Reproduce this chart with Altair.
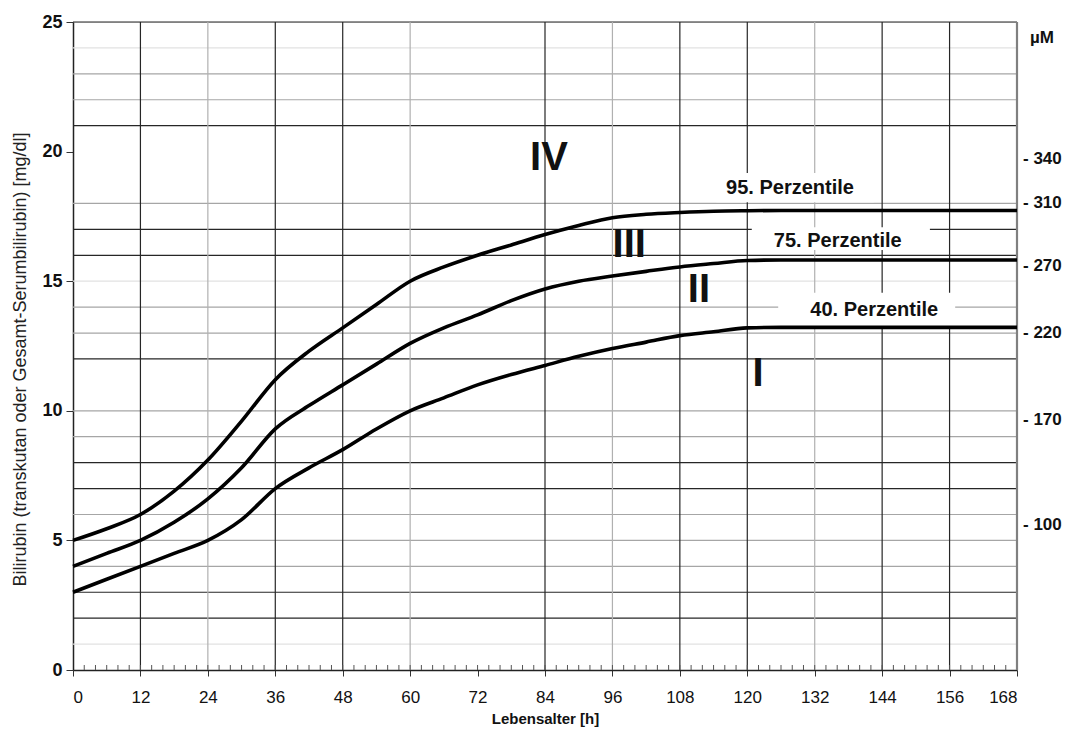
import altair as alt
import pandas as pd

# ---- data ----
hours = [0, 6, 12, 18, 24, 30, 36, 42, 48, 54, 60, 66, 72, 78, 84, 90, 96, 102, 108, 114, 120, 126, 168]
p95 = [5.0, 5.45, 6.0, 6.9, 8.1, 9.6, 11.2, 12.3, 13.2, 14.1, 15.0, 15.55, 16.0, 16.4, 16.8, 17.15, 17.45, 17.58, 17.65, 17.7, 17.72, 17.73, 17.73]
p75 = [4.0, 4.5, 5.0, 5.7, 6.6, 7.8, 9.3, 10.2, 11.0, 11.8, 12.6, 13.2, 13.7, 14.25, 14.7, 15.0, 15.2, 15.38, 15.55, 15.68, 15.8, 15.82, 15.82]
p40 = [3.0, 3.5, 4.0, 4.5, 5.0, 5.8, 7.0, 7.8, 8.5, 9.3, 10.0, 10.5, 11.0, 11.4, 11.75, 12.1, 12.4, 12.65, 12.9, 13.05, 13.2, 13.22, 13.22]

hgrid_dark = [2, 3, 7, 8, 12, 16, 17, 21, 25]
hgrid_mid = [4, 5, 6, 9, 10, 13, 14, 18, 22, 23]
hgrid_light = [1, 15, 24]
vgrid_dark = [12, 36, 48, 84, 108, 120, 144, 156]
vgrid_mid = [24, 60, 96, 132]
minor_hours = list(range(2, 168, 2))

x_ticks = list(range(0, 169, 12))
y_ticks = [0, 5, 10, 15, 20, 25]

pct_labels = ["95. Perzentile", "75. Perzentile", "40. Perzentile"]
pct_h = [127.6, 136.1, 142.6]
pct_mg = [18.6, 16.55, 13.9]
box_h1 = [114.5, 120.8, 125.5]
box_h2 = [142.5, 152.5, 157.0]
box_mg1 = [18.05, 16.2, 13.25]
box_mg2 = [19.17, 17.08, 14.55]

zones = ["IV", "III", "II", "I"]
zone_h = [84.7, 99.0, 111.4, 121.9]
zone_mg = [19.77, 16.4, 14.66, 11.42]

umol_labels = ["- 340", "- 310", "- 270", "- 220", "- 170", "- 100"]
umol_mg = [19.7, 18.0, 15.6, 13.0, 9.65, 5.6]

W, H = 944, 648
FONT = "Liberation Sans"

xs = alt.Scale(domain=[0, 168], nice=False, zero=False)
ys = alt.Scale(domain=[0, 25], nice=False, zero=False)

XT = "Lebensalter [h]"
YT = "Bilirubin (transkutan oder Gesamt-Serumbilirubin) [mg/dl]"

X_AX = alt.Axis(values=x_ticks, title=XT, grid=False, tickSize=6,
                tickColor="#333", domainColor="#222", domainWidth=1.5,
                labelFont=FONT, labelFontSize=17, labelColor="#111", labelPadding=13,
                titleFont=FONT, titleFontSize=15, titleFontWeight="bold", titleColor="#111",
                titleY=56, titleBaseline="bottom")
Y_AX = alt.Axis(values=y_ticks, title=YT,
                grid=False, tickSize=7, tickColor="#333", domainColor="#222", domainWidth=1.5,
                labelFont=FONT, labelFontSize=18, labelFontWeight="bold", labelColor="#111",
                labelPadding=4, titleFont=FONT, titleFontSize=18, titleFontWeight="normal",
                titleColor="#222", titleX=-53, titleY=337, titleAngle=-90,
                titleBaseline="middle", titleAlign="center")


def X(f):
    return alt.X(f, scale=xs, axis=X_AX, title=XT)


def Y(f):
    return alt.Y(f, scale=ys, axis=Y_AX, title=YT)


# ---- tables ----
curves = pd.DataFrame({
    "h": hours * 3,
    "mg": p95 + p75 + p40,
    "s": ["95"] * len(hours) + ["75"] * len(hours) + ["40"] * len(hours),
})
hgrid = pd.DataFrame({
    "mg": hgrid_dark + hgrid_mid + hgrid_light,
    "c": ["#262626"] * len(hgrid_dark) + ["#a6a6a6"] * len(hgrid_mid) + ["#e2e2e2"] * len(hgrid_light),
})
vgrid = pd.DataFrame({
    "h": vgrid_dark + vgrid_mid,
    "c": ["#262626"] * len(vgrid_dark) + ["#b0b0b0"] * len(vgrid_mid),
})
minor = pd.DataFrame({"h": minor_hours})
boxes = pd.DataFrame({"h": box_h1, "h2": box_h2, "mg": box_mg1, "m2": box_mg2})
pct = pd.DataFrame({"t": pct_labels, "h": pct_h, "mg": pct_mg})
zon = pd.DataFrame({"t": zones, "h": zone_h, "mg": zone_mg})
um = pd.DataFrame({"t": umol_labels, "mg": umol_mg})
umt = pd.DataFrame({"t": ["µM"], "mg": [24.4]})

# ---- layers ----
hg = alt.Chart(hgrid).mark_rule(strokeWidth=1.2).encode(
    y=Y("mg:Q"),
    color=alt.Color("c:N", scale=None),
)

vg = alt.Chart(vgrid).mark_rule(strokeWidth=1.2).encode(
    x=X("h:Q"),
    color=alt.Color("c:N", scale=None),
)

right_border = alt.Chart(pd.DataFrame({"h": [168]})).mark_rule(strokeWidth=2.2, color="#808080").encode(
    x=X("h:Q")
)

bx = alt.Chart(boxes).mark_rect(color="white").encode(
    x=X("h:Q"), x2="h2:Q",
    y=Y("mg:Q"), y2="m2:Q",
)

ln = alt.Chart(curves).mark_line(color="black", strokeWidth=3.6, interpolate="monotone").encode(
    x=X("h:Q"),
    y=Y("mg:Q"),
    detail="s:N",
)

mt = alt.Chart(minor).mark_rule(color="#555", strokeWidth=1).encode(
    x=X("h:Q"),
    y=alt.value(H), y2=alt.value(H - 5),
)

pt = alt.Chart(pct).mark_text(font=FONT, fontSize=20, fontWeight="bold", color="#111",
                              align="center", baseline="middle").encode(
    x=X("h:Q"), y=Y("mg:Q"), text="t:N")

zt = alt.Chart(zon).mark_text(font=FONT, fontSize=40, fontWeight="bold", color="#111",
                              align="center", baseline="middle").encode(
    x=X("h:Q"), y=Y("mg:Q"), text="t:N")

ut = alt.Chart(um).mark_text(font=FONT, fontSize=17, fontWeight="bold", color="#111",
                             align="left", baseline="middle").encode(
    x=alt.value(W + 6), y=Y("mg:Q"), text="t:N")

umh = alt.Chart(umt).mark_text(font=FONT, fontSize=17, fontWeight="bold", color="#111",
                               align="left", baseline="middle").encode(
    x=alt.value(W + 13), y=Y("mg:Q"), text="t:N")

chart = alt.layer(hg, vg, right_border, bx, ln, mt, pt, zt, ut, umh).properties(
    width=W, height=H,
    autosize=alt.AutoSizeParams(type="none"),
    padding={"left": 65, "top": 14, "right": 48, "bottom": 57},
).configure_view(stroke=None).configure(background="white")

chart.save("out.html", embed_options={"renderer": "svg", "actions": False})
